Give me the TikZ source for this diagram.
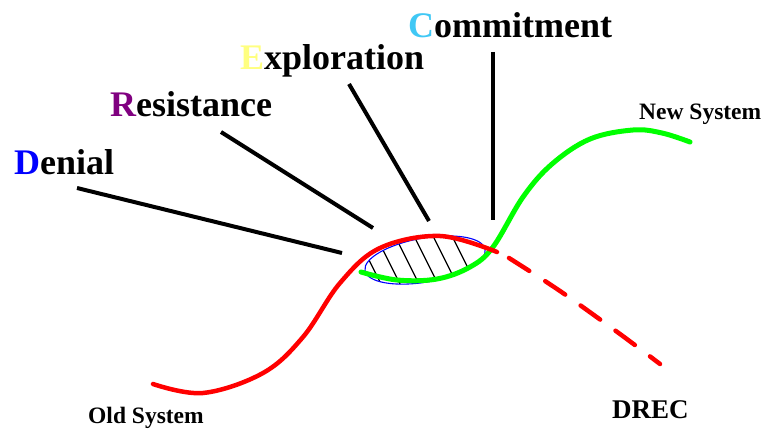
\documentclass[tikz,border=0pt]{standalone}
\usepackage{fontspec}
\setmainfont{Liberation Serif}
\usepackage{xcolor}
\definecolor{denialblue}{RGB}{0,0,255}
\definecolor{resistpurple}{RGB}{128,0,128}
\definecolor{explyellow}{RGB}{255,255,128}
\definecolor{commitcyan}{RGB}{64,200,245}
\definecolor{sysgreen}{RGB}{0,255,0}
\definecolor{sysred}{RGB}{255,0,0}

\begin{document}
\begin{tikzpicture}[x=1pt,y=-1pt,line cap=round,
  stage/.style={anchor=base west,inner sep=0pt,font=\fontsize{36}{40}\selectfont\bfseries},
  tag/.style={anchor=base west,inner sep=0pt,font=\fontsize{23.5}{26}\selectfont\bfseries},
  pointer/.style={line width=4pt,line cap=butt}]
\useasboundingbox (0,0) rectangle (767,430);
\node[stage] (denial) at (14,175) {\textcolor{denialblue}{D}enial};
\node[stage] (resist) at (110,117) {\textcolor{resistpurple}{R}esistance};
\node[stage] (explore) at (240,70) {\textcolor{explyellow}{E}xploration};
\node[stage] (commit) at (408,38) {\textcolor{commitcyan}{C}ommitment};
\node[tag] (newsys) at (639,120) {New System};
\node[tag] (oldsys) at (88,423) {Old System};
\node[tag,font=\fontsize{27}{30}\selectfont\bfseries] (drec) at (612,418) {DREC};
\coordinate (d1) at (77,188);
\coordinate (d2) at (342,253);
\coordinate (r1) at (221,132);
\coordinate (r2) at (373,228);
\coordinate (e1) at (349,84);
\coordinate (e2) at (429,221);
\coordinate (c1) at (493,52);
\coordinate (c2) at (493,220);
\draw[pointer] (d1) -- (d2);
\draw[pointer] (r1) -- (r2);
\draw[pointer] (e1) -- (e2);
\draw[pointer] (c1) -- (c2);
\coordinate (gap) at (425,260);
\begin{scope}
\clip[rotate around={10:(gap)}] (gap) ellipse (61 and 22);
\foreach \x in {359,378,397,416,435,454}
  \draw[line width=1.3pt] (\x-20,200) -- (\x+40,320);
\end{scope}
\draw[blue,line width=1.1pt,rotate around={10:(gap)}] (gap) ellipse (61 and 22);
\draw[sysgreen,line width=5pt] plot[smooth,tension=0.6] coordinates {(361,272) (397,280) (437,279) (470,267) (493,247) (523,197) (552,164) (590,139) (633,130) (662,133) (690,142)};
\draw[sysred,line width=4.5pt] plot[smooth,tension=0.6] coordinates {(153,384) (203,393) (263,373) (303,337) (340,283) (380,248) (440,236) (497,252)};
\draw[sysred,line width=4.5pt,dash pattern=on 24pt off 19pt] plot[smooth] coordinates {(509,258) (560,291) (620,334) (660,364)};
\end{tikzpicture}
\end{document}
